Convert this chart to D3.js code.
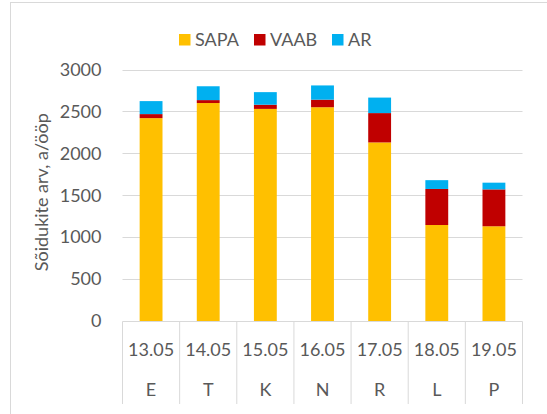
<!DOCTYPE html>
<html>
<head>
<meta charset="utf-8">
<script src="https://cdn.jsdelivr.net/npm/d3@7"></script>
<style>
  body { margin: 0; background: #fff; }
  text { font-family: Lato, "Open Sans", sans-serif; fill: #595959; }
</style>
</head>
<body>
<svg id="chart"></svg>
<script>
// data
const dates = ['13.05', '14.05', '15.05', '16.05', '17.05', '18.05', '19.05'];
const days = ['E', 'T', 'K', 'N', 'R', 'L', 'P'];
const sapa = [2420, 2600, 2530, 2550, 2130, 1145, 1130];
const vaab = [48, 35, 50, 90, 350, 430, 440];
const ar = [155, 165, 150, 170, 185, 105, 80];
const seriesNames = ['SAPA', 'VAAB', 'AR'];
const seriesColors = ['#FFC000', '#C00000', '#00B0F0'];
const yTicks = [0, 500, 1000, 1500, 2000, 2500, 3000];

const width = 547, height = 414;
const margin = {top: 69.5, right: 24.5, bottom: 93, left: 122.5};
const fontSize = '18px';

const rows = dates.map((d, i) => ({date: d, SAPA: sapa[i], VAAB: vaab[i], AR: ar[i]}));
const stacked = d3.stack().keys(seriesNames)(rows);

const svg = d3.select('#chart')
    .attr('width', width)
    .attr('height', height);

// outer frame (only left/top are visible in the crop)
svg.append('rect')
    .attr('x', 10.5).attr('y', 2.5)
    .attr('width', 560).attr('height', 440)
    .attr('fill', 'none')
    .attr('stroke', '#d9d9d9');

const xScale = d3.scaleBand()
    .domain(dates)
    .range([margin.left, width - margin.right]);

const yScale = d3.scaleLinear()
    .domain([0, 3000])
    .range([height - margin.bottom, margin.top]);

// gridlines
svg.append('g')
    .selectAll('line')
    .data(yTicks.slice(1))
    .join('line')
    .attr('x1', margin.left).attr('x2', width - margin.right)
    .attr('y1', d => Math.round(yScale(d)) + 0.5)
    .attr('y2', d => Math.round(yScale(d)) + 0.5)
    .attr('stroke', '#d9d9d9')
    .attr('stroke-width', 1);

// y axis labels
const yAxis = d3.axisLeft(yScale)
    .tickValues(yTicks)
    .tickFormat(d3.format('d'))
    .tickSize(0)
    .tickPadding(21);
svg.append('g')
    .attr('transform', `translate(${margin.left},0)`)
    .call(yAxis)
    .call(g => g.select('.domain').remove())
    .selectAll('text')
    .style('font-family', 'Lato, "Open Sans", sans-serif')
    .style('font-size', fontSize)
    .attr('fill', '#595959');

// y axis title
svg.append('text')
    .attr('transform', `translate(48,${(margin.top + height - margin.bottom) / 2 - 3}) rotate(-90)`)
    .attr('text-anchor', 'middle')
    .style('font-size', fontSize)
    .text('Sõidukite arv, a/ööp');

// bars
const barW = xScale.bandwidth() * 0.4;
svg.append('g')
    .selectAll('g')
    .data(stacked)
    .join('g')
    .attr('fill', (d, i) => seriesColors[i])
    .selectAll('rect')
    .data(d => d)
    .join('rect')
    .attr('x', d => xScale(d.data.date) + (xScale.bandwidth() - barW) / 2)
    .attr('width', barW)
    .attr('y', d => yScale(d[1]))
    .attr('height', d => yScale(d[0]) - yScale(d[1]));

// category axis: baseline and separators
const y0 = Math.round(yScale(0)) + 0.5;
svg.append('line')
    .attr('x1', margin.left).attr('x2', width - margin.right)
    .attr('y1', y0).attr('y2', y0)
    .attr('stroke', '#d9d9d9');

const bounds = dates.map(d => xScale(d)).concat([width - margin.right]);
svg.append('g')
    .selectAll('line')
    .data(bounds)
    .join('line')
    .attr('x1', d => d).attr('x2', d => d)
    .attr('y1', y0).attr('y2', 404)
    .attr('stroke', '#d9d9d9');

const center = d => xScale(d) + xScale.bandwidth() / 2;
svg.append('g')
    .selectAll('text')
    .data(dates)
    .join('text')
    .attr('x', d => center(d))
    .attr('y', 356)
    .attr('text-anchor', 'middle')
    .style('font-size', fontSize)
    .text(d => d);

svg.append('g')
    .selectAll('text')
    .data(days)
    .join('text')
    .attr('x', (d, i) => center(dates[i]))
    .attr('y', 396)
    .attr('text-anchor', 'middle')
    .style('font-size', fontSize)
    .text(d => d);

// legend
const legendX = [179, 254, 332];
const legend = svg.append('g')
    .selectAll('g')
    .data(seriesNames)
    .join('g')
    .attr('transform', (d, i) => `translate(${legendX[i]},34)`);
legend.append('rect')
    .attr('width', 11.5).attr('height', 11.5)
    .attr('fill', (d, i) => seriesColors[i]);
legend.append('text')
    .attr('x', 16).attr('y', 12)
    .style('font-size', fontSize)
    .text(d => d);
</script>
</body>
</html>
